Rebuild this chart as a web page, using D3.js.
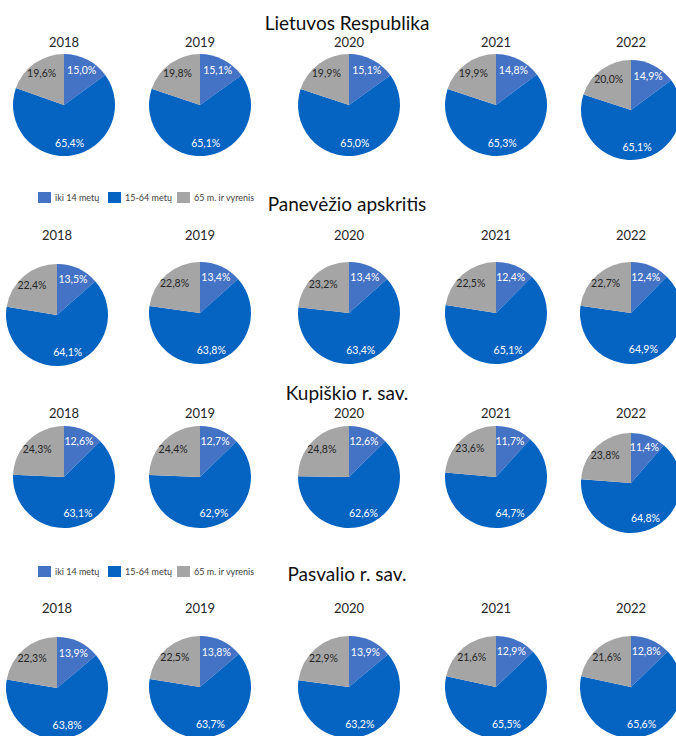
<!DOCTYPE html>
<html lang="lt">
<head>
  <meta charset="UTF-8">
  <title>Gyventojų amžiaus struktūra</title>
  <script src="https://cdn.jsdelivr.net/npm/d3@7"></script>
  <style>
    body { margin: 0; background: #fff; }
    text { font-family: Lato, "Open Sans", sans-serif; }
  </style>
</head>
<body>
<script>
  // duomenys
  var years = ['2018', '2019', '2020', '2021', '2022']
  var categories = ['iki 14 metų', '15-64 metų', '65 m. ir vyrenis']
  var regions = ['Lietuvos Respublika', 'Panevėžio apskritis', 'Kupiškio r. sav.', 'Pasvalio r. sav.']
  var lietuva = [[15.0, 65.4, 19.6], [15.1, 65.1, 19.8], [15.1, 65.0, 19.9], [14.8, 65.3, 19.9], [14.9, 65.1, 20.0]]
  var panevezys = [[13.5, 64.1, 22.4], [13.4, 63.8, 22.8], [13.4, 63.4, 23.2], [12.4, 65.1, 22.5], [12.4, 64.9, 22.7]]
  var kupiskis = [[12.6, 63.1, 24.3], [12.7, 62.9, 24.4], [12.6, 62.6, 24.8], [11.7, 64.7, 23.6], [11.4, 64.8, 23.8]]
  var pasvalys = [[13.9, 63.8, 22.3], [13.8, 63.7, 22.5], [13.9, 63.2, 22.9], [12.9, 65.5, 21.6], [12.8, 65.6, 21.6]]
  var regionValues = [lietuva, panevezys, kupiskis, pasvalys]

  var colors = ['#4472C4', '#0563C1', '#A5A5A5']
  var labelColors = ['#fff', '#fff', '#262626']

  // išdėstymas (kolažo panelės)
  var panels = [
    { titleY: 30, yearY: 47, cx: [64, 200, 349, 496, 631], cy: [105, 105, 105, 105, 110], r: [51, 51, 51, 51, 50] },
    { titleY: 211, yearY: 240, cx: [57, 200, 349, 496, 631], cy: [315, 313, 313, 313, 313], r: [51, 51, 51, 51, 51] },
    { titleY: 400, yearY: 418, cx: [64, 200, 349, 496, 631], cy: [477, 477, 477, 477, 483], r: [51, 51, 51, 51, 50] },
    { titleY: 581, yearY: 613, cx: [57, 200, 349, 496, 631], cy: [688, 687, 687, 687, 687], r: [51, 51, 51, 51, 51] }
  ]
  var legendYs = [198, 572]

  var w = 676, h = 736
  var svg = d3.select('body').append('svg').attr('width', w).attr('height', h)

  var pie = d3.pie().sort(null).value(function (d) { return d })
  var fmt = function (v) { return d3.format('.1f')(v).replace('.', ',') + '%' }

  regions.forEach(function (name, ri) {
    var p = panels[ri]
    svg.append('text').text(name)
      .attr('x', 347).attr('y', p.titleY)
      .attr('text-anchor', 'middle')
      .attr('font-size', '19px')
      .attr('fill', '#111')

    years.forEach(function (yr, yi) {
      var r = p.r[yi]
      var g = svg.append('g').attr('transform', 'translate(' + p.cx[yi] + ',' + p.cy[yi] + ')')
      var arc = d3.arc().innerRadius(0).outerRadius(r)
      var labelArc = d3.arc().innerRadius(r * 0.76).outerRadius(r * 0.76)
      var arcs = pie(regionValues[ri][yi])

      svg.append('text').text(yr)
        .attr('x', p.cx[yi]).attr('y', p.yearY)
        .attr('text-anchor', 'middle')
        .attr('font-size', '13px')
        .attr('fill', '#262626')

      g.selectAll('path').data(arcs).enter().append('path')
        .attr('d', arc)
        .attr('fill', function (d, i) { return colors[i] })

      g.selectAll('text').data(arcs).enter().append('text')
        .text(function (d) { return fmt(d.data) })
        .attr('transform', function (d) { return 'translate(' + labelArc.centroid(d) + ')' })
        .attr('text-anchor', 'middle')
        .attr('dy', '0.35em')
        .attr('font-size', '10.5px')
        .attr('fill', function (d, i) { return labelColors[i] })
    })
  })

  // legendos
  var legendX = [38, 108, 177]
  legendYs.forEach(function (ly) {
    var lg = svg.append('g')
    categories.forEach(function (c, i) {
      lg.append('rect').attr('x', legendX[i]).attr('y', ly - 6).attr('width', 13).attr('height', 11)
        .attr('fill', colors[i])
      lg.append('text').text(c).attr('x', legendX[i] + 17).attr('y', ly)
        .attr('dy', '0.35em').attr('font-size', '9px').attr('fill', '#404040')
    })
  })
</script>
</body>
</html>
